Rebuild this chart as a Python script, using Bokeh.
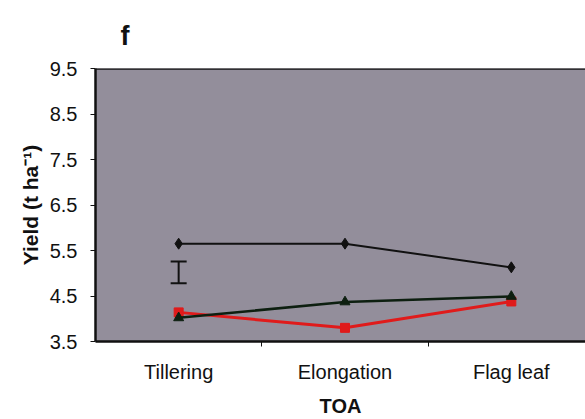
from bokeh.plotting import figure
from bokeh.models import Range1d, FixedTicker, Whisker, ColumnDataSource, Span
from bokeh.embed import file_html
from bokeh.resources import INLINE

# Timing of application (TOA) and grain yield (t/ha) for three treatments
stages = ["Tillering", "Elongation", "Flag leaf"]
yield_diamond = [5.65, 5.65, 5.13]
yield_triangle = [4.02, 4.37, 4.49]
yield_square = [4.14, 3.80, 4.38]
lsd_low = [4.78]
lsd_high = [5.26]
y_ticks = [3.5, 4.5, 5.5, 6.5, 7.5, 8.5, 9.5]

xs = [1, 2, 3]

p = figure(width=585, height=419, output_backend="svg", toolbar_location=None,
           x_range=Range1d(0.5, 3.446), y_range=Range1d(3.5, 9.5),
           min_border_left=95, min_border_right=0, min_border_top=68,
           min_border_bottom=75)

p.background_fill_color = "#938e9b"
p.border_fill_color = "white"
p.outline_line_color = None
p.grid.visible = False

# top edge of the plotting area
p.add_layout(Span(location=9.5, dimension="width", line_color="#111111", line_width=2.5))

# panel letter
p.title.text = "f"
p.title.text_font = "Liberation Sans"
p.title.text_font_size = "27px"
p.title.text_font_style = "bold"
p.title.text_color = "#111111"
p.title.offset = 25
p.title.standoff = 36

# x axis: labels at category centres, ticks at category boundaries
p.xaxis.ticker = FixedTicker(ticks=xs, minor_ticks=[1.5, 2.5])
p.xaxis.major_label_overrides = {1: stages[0], 2: stages[1], 3: stages[2]}
p.xaxis.major_tick_out = 0
p.xaxis.major_tick_in = 0
p.xaxis.minor_tick_out = 5
p.xaxis.minor_tick_in = 0
p.xaxis.axis_label = "TOA"
p.xaxis.major_label_standoff = 14

p.yaxis.ticker = FixedTicker(ticks=y_ticks)
p.yaxis.major_label_overrides = {v: f"{v:.1f}" for v in y_ticks}
p.yaxis.major_tick_out = 5
p.yaxis.major_tick_in = 0
p.yaxis.minor_tick_line_color = None
p.yaxis.axis_label = "Yield (t ha\u207b\u00b9)"
p.yaxis.major_label_standoff = 13

for ax in (p.xaxis, p.yaxis):
    ax.axis_line_color = "#111111"
    ax.axis_line_width = 2.5
    ax.major_label_text_font = "Liberation Sans"
    ax.major_label_text_font_size = "20px"
    ax.major_label_text_color = "#111111"
    ax.axis_label_text_font = "Liberation Sans"
    ax.axis_label_text_font_size = "20px"
    ax.axis_label_text_font_style = "bold"
    ax.axis_label_text_color = "#111111"
    ax.major_tick_line_color = "#111111"
    ax.minor_tick_line_color = "#111111"
p.yaxis.axis_label_text_font_size = "21px"
p.xaxis.axis_label_standoff = 9
p.yaxis.axis_label_standoff = 5

# series
p.line(xs, yield_diamond, line_color="#111111", line_width=2)
p.scatter(xs, yield_diamond, marker="diamond", size=11, color="#111111")

p.line(xs, yield_square, line_color="#e01b1b", line_width=3)
p.scatter(xs, yield_square, marker="square", size=9, color="#e01b1b")

p.line(xs, yield_triangle, line_color="#0d1f10", line_width=2.5)
p.scatter(xs, yield_triangle, marker="triangle", size=10, color="#0d1f10")

# LSD bar
src = ColumnDataSource(dict(x=[1], lo=lsd_low, hi=lsd_high))
w = Whisker(source=src, base="x", lower="lo", upper="hi",
            line_color="#111111", line_width=2)
for head in (w.upper_head, w.lower_head):
    head.size = 16
    head.line_color = "#111111"
    head.line_width = 2
p.add_layout(w)

open("out.html", "w").write(file_html(p, INLINE))
